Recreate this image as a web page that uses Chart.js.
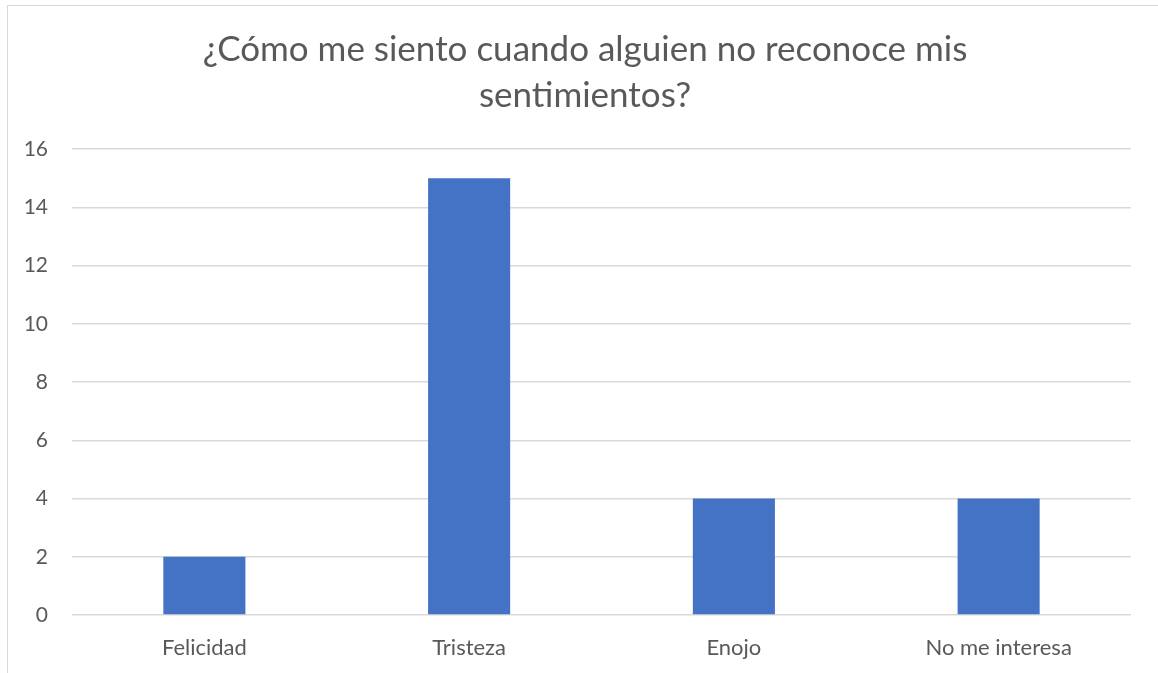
<!DOCTYPE html>
<html lang="es">
<head>
<meta charset="UTF-8">
<title>Sentimientos</title>
<script src="https://cdn.jsdelivr.net/npm/chart.js@4.4.1/dist/chart.umd.min.js"></script>
<style>
  html, body { margin: 0; padding: 0; background: #fff; }
  #wrap { position: relative; width: 1158px; height: 673px; overflow: hidden; }
  #frame { position: absolute; left: 7px; top: 5px; width: 1200px; height: 700px;
           border-left: 1px solid #d9d9d9; border-top: 1px solid #d9d9d9; }
  canvas { position: absolute; left: 0; top: 0; }
</style>
</head>
<body>
<div id="wrap">
  <div id="frame"></div>
  <canvas id="chart" width="1158" height="673"></canvas>
</div>
<script>
// datos
var categorias = ['Felicidad', 'Tristeza', 'Enojo', 'No me interesa'];
var valores = [2, 15, 4, 4];
var titulo = ['¿Cómo me siento cuando alguien no reconoce mis', 'sentimientos?'];

var gris = '#595959';
var fuente = 'Lato, "Open Sans", sans-serif';

// titulo dibujado a mano: el del plugin queda descentrado respecto al original
var tituloPlugin = {
  id: 'tituloPlugin',
  afterDraw: function (chart) {
    var ctx = chart.ctx;
    ctx.save();
    ctx.fillStyle = gris;
    ctx.font = '35px ' + fuente;
    ctx.textAlign = 'center';
    ctx.textBaseline = 'middle';
    titulo.forEach(function (linea, i) {
      ctx.fillText(linea, 585, 50 + i * 46);
    });
    ctx.restore();
  }
};

new Chart(document.getElementById('chart'), {
  type: 'bar',
  data: {
    labels: categorias,
    datasets: [{
      data: valores,
      backgroundColor: '#4472C4',
      barPercentage: 0.31,
      categoryPercentage: 1
    }]
  },
  options: {
    responsive: false,
    animation: false,
    layout: { padding: { left: 0, right: 27, top: 149, bottom: 0 } },
    plugins: {
      legend: { display: false },
      tooltip: { enabled: false },
      title: { display: false }
    },
    scales: {
      x: {
        grid: { display: false },
        border: { display: false },
        ticks: { color: gris, font: { family: fuente, size: 22 }, padding: 12 },
        afterFit: function (s) { s.height = 58; }
      },
      y: {
        min: 0, max: 16,
        ticks: { stepSize: 2, color: gris, font: { family: fuente, size: 21 }, padding: 24 },
        grid: { color: '#d9d9d9', lineWidth: 1.5, drawTicks: false },
        border: { display: false },
        afterFit: function (s) { s.width = 72; }
      }
    }
  },
  plugins: [tituloPlugin]
});
</script>
</body>
</html>
